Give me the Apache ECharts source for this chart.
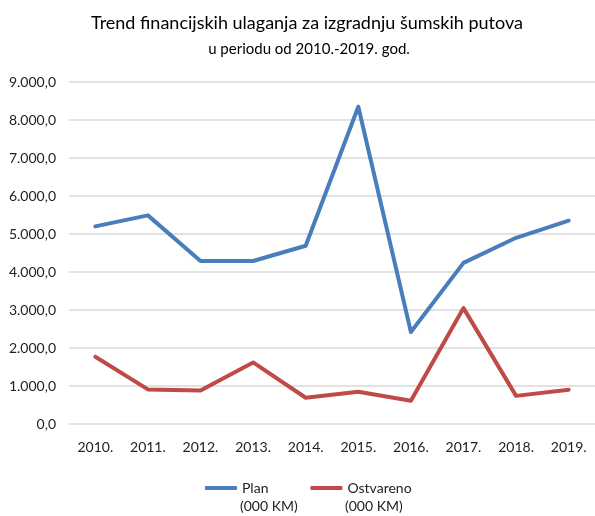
<!DOCTYPE html>
<html><head><meta charset="utf-8">
<script src="https://cdn.jsdelivr.net/npm/echarts@6/dist/echarts.min.js"></script>
<style>html,body{margin:0;padding:0;background:#fff}#c{width:595px;height:516px}</style>
</head><body><div id="c"></div>
<script>
const years = ['2010.','2011.','2012.','2013.','2014.','2015.','2016.','2017.','2018.','2019.'];
const plan = [5200, 5490, 4290, 4290, 4690, 8350, 2420, 4240, 4900, 5350];
const ostvareno = [1770, 910, 880, 1620, 690, 850, 610, 3050, 740, 900];
const seriesNames = ['Plan (000 KM)', 'Ostvareno (000 KM)'];
const FONT = "Lato, 'Noto Sans', sans-serif";
function fmt(v){
  const s = Math.round(v).toString().replace(/\B(?=(\d{3})+(?!\d))/g,'.');
  return s + ',0';
}
const chart = echarts.init(document.getElementById('c'));
chart.setOption({
  animation:false,
  title:[
    {text:'Trend financijskih ulaganja za izgradnju šumskih putova', left:302, top:9, textAlign:'center',
     textStyle:{fontFamily:FONT, fontSize:18, fontWeight:'normal', color:'#000'}},
    {text:'u periodu od 2010.-2019. god.', left:304, top:37, textAlign:'center',
     textStyle:{fontFamily:FONT, fontSize:15, fontWeight:'normal', color:'#000'}}
  ],
  grid:{left:69, top:82, width:528, height:342, containLabel:false},
  xAxis:{type:'category', data:years, boundaryGap:true,
    axisLine:{show:false}, axisTick:{show:false},
    axisLabel:{fontFamily:FONT, fontSize:14, color:'#222', margin:16}},
  yAxis:{type:'value', min:0, max:9000, interval:1000,
    axisLine:{show:false}, axisTick:{show:false},
    splitLine:{lineStyle:{color:'#d9d9d9', width:1.5}},
    axisLabel:{fontFamily:FONT, fontSize:14, color:'#222', margin:13, formatter:fmt}},
  legend:{left:200, top:476, itemWidth:32, itemHeight:4, itemGap:42,
    icon:'roundRect',
    formatter:function(n){return n.split(' ')[0];},
    textStyle:{fontFamily:FONT, fontSize:14, color:'#222'},
    data:seriesNames},
  graphic:[
    {type:'text', left:240, top:499, style:{text:'(000 KM)', font:"14px Lato, 'Noto Sans', sans-serif", fill:'#222'}},
    {type:'text', left:345, top:499, style:{text:'(000 KM)', font:"14px Lato, 'Noto Sans', sans-serif", fill:'#222'}}
  ],
  series:[
    {name:seriesNames[0], type:'line', data:plan, symbol:'none', lineStyle:{color:'#4a7ebb', width:4, cap:'round', join:'round'}, itemStyle:{color:'#4a7ebb'}},
    {name:seriesNames[1], type:'line', data:ostvareno, symbol:'none', lineStyle:{color:'#be4b48', width:4, cap:'round', join:'round'}, itemStyle:{color:'#be4b48'}}
  ]
});
</script></body></html>
